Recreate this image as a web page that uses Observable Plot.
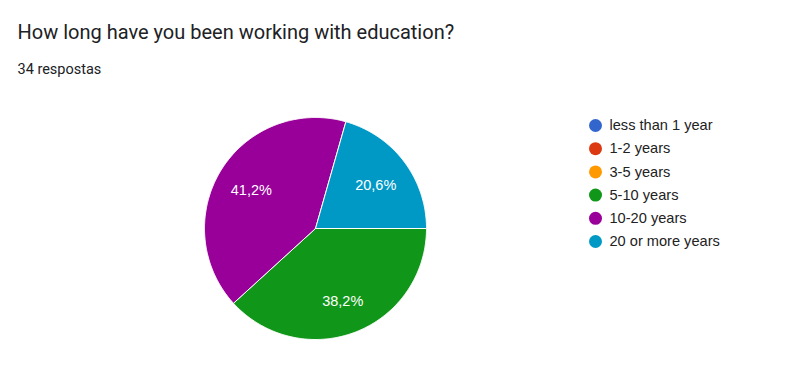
<!DOCTYPE html>
<html>
<head>
<meta charset="utf-8">
<script src="https://cdn.jsdelivr.net/npm/d3@7"></script>
<script src="https://cdn.jsdelivr.net/npm/@observablehq/plot@0.6"></script>
<style>
  html, body { margin: 0; padding: 0; background: #fff; }
  svg { display: block; }
</style>
</head>
<body>
<div id="chart"></div>
<script>
const title = "How long have you been working with education?";
const subtitle = "34 respostas";
const categories = ["less than 1 year", "1-2 years", "3-5 years", "5-10 years", "10-20 years", "20 or more years"];
const counts = [0, 0, 0, 13, 14, 7];
const colors = ["#3366cc", "#dc3912", "#ff9900", "#109618", "#990099", "#0099c6"];

const total = d3.sum(counts);
const cx = 315, cy = 228, R = 111;

const rows = categories.map((c, i) => ({category: c, count: counts[i], color: colors[i], i}));
const pie = d3.pie().value(d => d.count).sort(null).startAngle(Math.PI / 2).endAngle(Math.PI / 2 + 2 * Math.PI);
const arcs = pie(rows).filter(a => a.data.count > 0);

// polygon outline of each slice
const poly = [];
for (const a of arcs) {
  poly.push({key: a.data.category, color: a.data.color, x: cx, y: cy});
  const n = Math.max(2, Math.ceil((a.endAngle - a.startAngle) / (Math.PI / 360)));
  for (let k = 0; k <= n; k++) {
    const t = a.startAngle + (a.endAngle - a.startAngle) * k / n;
    poly.push({key: a.data.category, color: a.data.color, x: cx + R * Math.sin(t), y: cy - R * Math.cos(t)});
  }
  poly.push({key: a.data.category, color: a.data.color, x: cx, y: cy});
}

const labels = arcs.map(a => {
  const m = (a.startAngle + a.endAngle) / 2;
  const rr = R * 0.68;
  return {
    x: cx + rr * Math.sin(m),
    y: cy - rr * Math.cos(m) + 2,
    text: (a.data.count / total * 100).toFixed(1).replace(".", ",") + "%"
  };
});

const plot = Plot.plot({
  width: 800,
  height: 379,
  margin: 0,
  x: {type: "identity", axis: null},
  y: {type: "identity", axis: null},
  style: {fontFamily: "Roboto, 'Noto Sans', sans-serif", background: "#fff"},
  marks: [
    Plot.text([title], {x: 17, y: 38, text: d => d, textAnchor: "start", lineAnchor: "bottom", fontSize: 20, fill: "#202124"}),
    Plot.text([subtitle], {x: 17, y: 73, text: d => d, textAnchor: "start", lineAnchor: "bottom", fontSize: 14.5, fill: "#202124"}),
    Plot.line(poly, {x: "x", y: "y", z: "key", fill: "color", stroke: "#fff", strokeWidth: 1, curve: "linear-closed"}),
    Plot.text(labels, {x: "x", y: "y", text: "text", fill: "#fff", fontSize: 14.5, lineAnchor: "middle", fontFamily: "'Liberation Sans', Arial, sans-serif"}),
    Plot.dot(rows, {x: 595, y: d => 125 + d.i * 23.2, r: 6.5, fill: "color", stroke: null}),
    Plot.text(rows, {x: 609, y: d => 125 + d.i * 23.2, text: "category", textAnchor: "start", lineAnchor: "middle", fontSize: 14.6, fill: "#222", fontFamily: "'Liberation Sans', Arial, sans-serif"})
  ]
});
document.getElementById("chart").appendChild(plot);
</script>
</body>
</html>
